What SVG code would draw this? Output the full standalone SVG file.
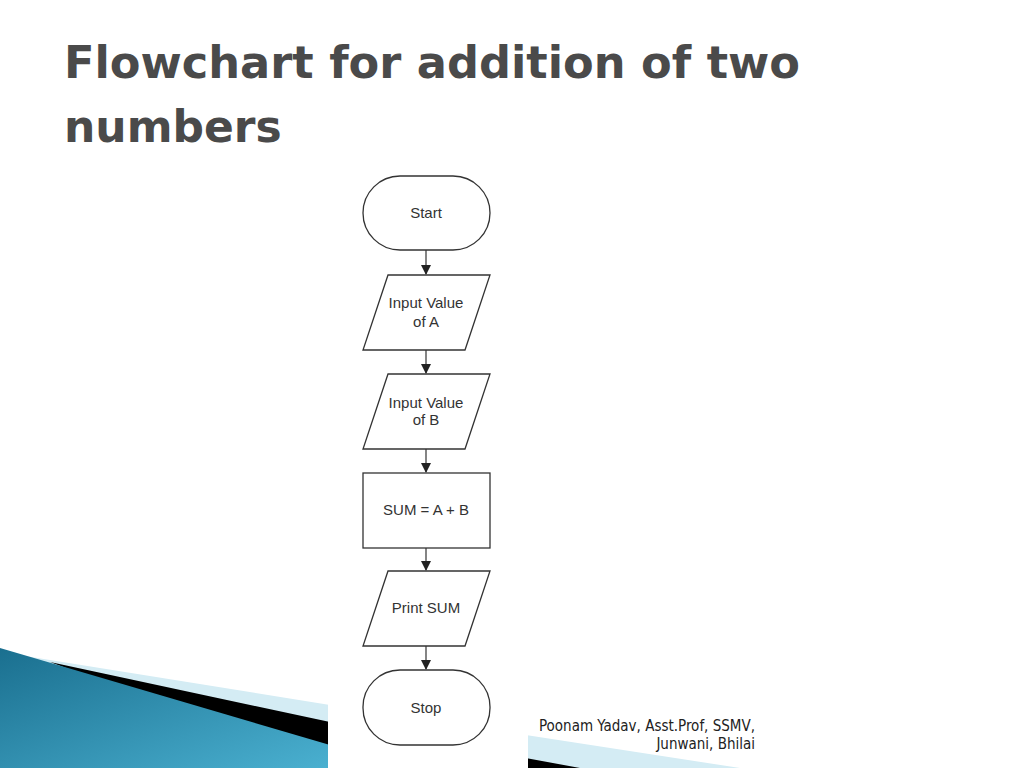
<svg xmlns="http://www.w3.org/2000/svg" width="1024" height="768" viewBox="0 0 1024 768">
<style>
.s{fill:#fff;stroke:#333;stroke-width:1.3}
.t{font-family:"Liberation Sans",Arial,sans-serif;font-size:15px;fill:#333;text-anchor:middle}
.c{stroke:#333;stroke-width:1.2;fill:none;marker-end:url(#a)}
</style>
<defs>
<marker id="a" markerWidth="10" markerHeight="10" refX="9" refY="5" orient="auto" markerUnits="userSpaceOnUse"><path d="M0,0 L10,5 L0,10 Z" fill="#222"/></marker>
<linearGradient id="g" x1="0" y1="0" x2="1" y2="1"><stop offset="0" stop-color="#1a6f8f"/><stop offset="1" stop-color="#4ab0d0"/></linearGradient>
</defs>
<rect width="1024" height="768" fill="#fff"/>
<text x="64" y="78" font-family="DejaVu Sans,sans-serif" font-weight="bold" font-size="44" fill="#4a4a4a" textLength="736" lengthAdjust="spacingAndGlyphs">Flowchart for addition of two</text>
<text x="64" y="142" font-family="DejaVu Sans,sans-serif" font-weight="bold" font-size="44" fill="#4a4a4a">numbers</text>
<polygon points="0,652 330,705 740,768 0,768" fill="#d4ecf4"/>
<polygon points="50,662 330,722 580,768 330,768" fill="#000"/>
<polygon points="0,648 330,745 330,768 0,768" fill="url(#g)"/>
<rect x="328" y="160" width="200" height="608" fill="#fff"/>
<g id="connectors">
<line class="c" x1="426" y1="250" x2="426" y2="274"/>
<line class="c" x1="426" y1="350" x2="426" y2="373"/>
<line class="c" x1="426" y1="449" x2="426" y2="472"/>
<line class="c" x1="426" y1="548" x2="426" y2="570"/>
<line class="c" x1="426" y1="646" x2="426" y2="669"/>
</g>
<g id="start"><rect class="s" x="363" y="176" width="127" height="74" rx="37"/><text class="t" x="426" y="218">Start</text></g>
<g id="inputA"><polygon class="s" points="388,275 490,275 465,350 363,350"/><text class="t" x="426" y="308">Input Value</text><text class="t" x="426" y="327">of A</text></g>
<g id="inputB"><polygon class="s" points="388,374 490,374 465,449 363,449"/><text class="t" x="426" y="408" font-size="14">Input Value</text><text class="t" x="426" y="425" font-size="14">of B</text></g>
<g id="sum"><rect class="s" x="363" y="473" width="127" height="75"/><text class="t" x="426" y="515">SUM = A + B</text></g>
<g id="print"><polygon class="s" points="388,571 490,571 465,646 363,646"/><text class="t" x="426" y="613">Print SUM</text></g>
<g id="stop"><rect class="s" x="363" y="670" width="127" height="75" rx="37"/><text class="t" x="426" y="713">Stop</text></g>
<text x="755" y="731" font-family="DejaVu Sans Condensed,sans-serif" font-size="15" fill="#222" text-anchor="end">Poonam Yadav, Asst.Prof, SSMV,</text>
<text x="755" y="749" font-family="DejaVu Sans Condensed,sans-serif" font-size="15" fill="#222" text-anchor="end">Junwani, Bhilai</text>
</svg>
